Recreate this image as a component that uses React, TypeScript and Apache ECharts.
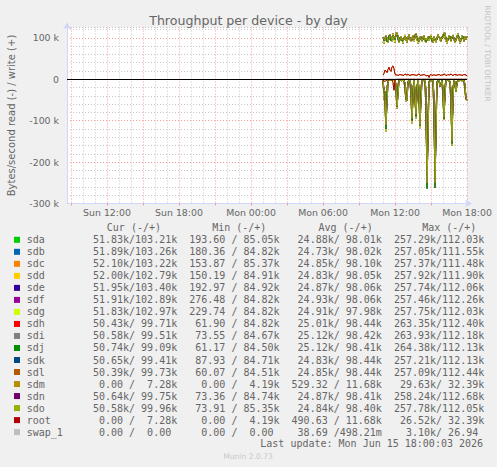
import React, { useEffect, useRef } from 'react';
import * as echarts from 'echarts';

// ---- legend / device data ----
const devices = ['sda', 'sdb', 'sdc', 'sdd', 'sde', 'sdf', 'sdg', 'sdh', 'sdi', 'sdj', 'sdk', 'sdl', 'sdm', 'sdn', 'sdo', 'root', 'swap_1'];
const deviceColors = ['#00CC00', '#0066B3', '#FF8000', '#FFCC00', '#330099', '#990099', '#CCFF00', '#FF0000', '#808080', '#008F00', '#00487D', '#B35A00', '#B38F00', '#6B006B', '#8FB300', '#B30000', '#BEBEBE'];

const curCol = [' 51.83k/103.21k', ' 51.89k/103.26k', ' 52.10k/103.22k', ' 52.00k/102.79k', ' 51.95k/103.40k', ' 51.91k/102.89k', ' 51.83k/102.97k', ' 50.43k/ 99.71k', ' 50.58k/ 99.51k', ' 50.74k/ 99.09k', ' 50.65k/ 99.41k', ' 50.39k/ 99.73k', '  0.00 /  7.28k', ' 50.64k/ 99.75k', ' 50.58k/ 99.96k', '  0.00 /  7.28k', '  0.00 /  0.00 '];
const minCol = ['193.60 / 85.05k', '180.36 / 84.82k', '153.87 / 85.37k', '150.19 / 84.91k', '192.97 / 84.92k', '276.48 / 84.82k', '229.74 / 84.82k', ' 61.90 / 84.82k', ' 73.55 / 84.67k', ' 61.17 / 84.50k', ' 87.93 / 84.71k', ' 60.07 / 84.51k', '  0.00 /  4.19k', ' 73.36 / 84.74k', ' 73.91 / 85.35k', '  0.00 /  4.19k', '  0.00 /  0.00 '];
const avgCol = [' 24.88k/ 98.01k', ' 24.73k/ 98.02k', ' 24.85k/ 98.10k', ' 24.83k/ 98.05k', ' 24.87k/ 98.06k', ' 24.93k/ 98.06k', ' 24.91k/ 97.98k', ' 25.01k/ 98.44k', ' 25.12k/ 98.42k', ' 25.12k/ 98.41k', ' 24.83k/ 98.44k', ' 24.85k/ 98.44k', '529.32 / 11.68k', ' 24.87k/ 98.41k', ' 24.84k/ 98.40k', '490.63 / 11.68k', ' 38.69 /498.21m'];
const maxCol = ['257.29k/112.03k', '257.05k/111.55k', '257.37k/111.48k', '257.92k/111.90k', '257.74k/112.06k', '257.46k/112.26k', '257.75k/112.03k', '263.35k/112.40k', '263.93k/112.18k', '264.38k/112.13k', '257.21k/112.13k', '257.09k/112.44k', ' 29.63k/ 32.39k', '258.24k/112.68k', '257.78k/112.05k', ' 26.52k/ 32.39k', '  3.10k/ 26.94 '];
const headers = ['Cur (-/+)', 'Min (-/+)', 'Avg (-/+)', 'Max (-/+)'];

// ---- y axis tick labels ----
const yTickLabels: Record<number, string> = { 100000: '100 k', 0: '0', [-100000]: '-100 k', [-200000]: '-200 k', [-300000]: '-300 k' };

// ---- time series, 5-minute steps, Mon 11:00 .. Mon 18:00 (kB/s) ----
const writeA = [
  90, 86, 101, 106, 95, 88, 99, 108, 100, 92,
  110, 97, 89, 112, 108, 99, 88, 95, 104, 97,
  87, 100, 107, 94, 89, 103, 108, 96, 90, 101,
  106, 92, 108, 111, 97, 87, 95, 104, 97, 90,
  102, 106, 93, 88, 97, 104, 93, 100, 107, 95,
  89, 103, 94, 88, 100, 108, 103, 95, 91, 102,
  108, 112, 99, 92, 87, 97, 105, 100, 90, 103,
  107, 96, 88, 94, 106, 110, 97, 87, 94, 105,
  100, 91, 103, 96, 103,
];
const writeB = [
  102, 93, 96, 104, 90, 95, 106, 101, 93, 99,
  106, 103, 95, 108, 112, 95, 91, 102, 99, 92,
  93, 96, 103, 101, 93, 97, 104, 102, 95, 93,
  101, 98, 106, 108, 103, 94, 91, 98, 103, 96,
  95, 103, 99, 91, 94, 101, 97, 104, 102, 91,
  96, 100, 99, 93, 95, 104, 100, 101, 95, 97,
  105, 110, 106, 101, 93, 94, 100, 104, 96, 97,
  104, 101, 92, 98, 102, 107, 103, 92, 97, 100,
  104, 95, 99, 100, 99.7,
];
const writeC = [
  97, 99, 94, 103, 101, 92, 97, 105, 103, 95,
  105, 102, 99, 104, 112, 105, 93, 97, 101, 95,
  98, 95, 104, 99, 92, 98, 105, 101, 93, 96,
  103, 95, 101, 108, 104, 99, 93, 101, 100, 93,
  99, 104, 95, 97, 95, 102, 101, 97, 104, 98,
  93, 102, 95, 92, 99, 105, 102, 99, 93, 101,
  100, 106, 112, 97, 92, 99, 103, 98, 94, 101,
  105, 99, 91, 95, 104, 102, 101, 91, 99, 102,
  98, 94, 102, 97, 99.9,
];
const readA = [
  5, 45, 60, 127, 20, 4, 2, 3, 2, 4,
  3, 2, 5, 35, 70, 12, 3, 2, 4, 3,
  2, 5, 25, 53, 30, 5, 3, 4, 45, 106,
  18, 8, 50, 94, 15, 5, 50, 118, 20, 3,
  2, 4, 8, 80, 257, 100, 5, 3, 2, 4,
  10, 90, 257, 90, 6, 3, 4, 18, 8, 3,
  50, 98, 15, 3, 2, 4, 3, 8, 70, 160,
  20, 4, 15, 30, 5, 2, 3, 4, 2, 3,
  2, 6, 30, 50, 51.8,
];
const readB = [
  4, 30, 45, 120, 30, 3, 3, 2, 3, 3,
  2, 3, 3, 25, 66, 18, 2, 3, 3, 2,
  3, 2, 18, 50, 38, 4, 2, 3, 30, 100,
  25, 5, 40, 90, 20, 4, 35, 112, 30, 2,
  3, 3, 5, 50, 264, 110, 4, 2, 3, 3,
  4, 60, 262, 105, 5, 2, 3, 15, 12, 2,
  35, 95, 22, 2, 3, 3, 4, 5, 45, 155,
  25, 4, 10, 28, 6, 3, 2, 3, 3, 2,
  3, 3, 20, 48, 50.6,
];
const readC = [
  2, 25, 30, 110, 60, 8, 3, 2, 3, 2,
  4, 2, 2, 12, 65, 40, 4, 3, 2, 4,
  2, 4, 8, 45, 52, 10, 2, 3, 15, 95,
  50, 3, 25, 85, 40, 2, 20, 110, 55, 4,
  3, 2, 3, 25, 250, 150, 15, 3, 2, 3,
  2, 40, 250, 140, 12, 4, 3, 17, 14, 4,
  20, 92, 40, 4, 3, 2, 3, 4, 25, 150,
  50, 2, 6, 30, 12, 3, 4, 2, 3, 4,
  3, 2, 12, 45, 50.6,
];
const rootWrite = [
  10, 14, 22, 20, 16, 24, 29, 22, 19, 30,
  32.39, 26, 12, 10, 11, 9, 10, 12, 10, 11,
  9, 10, 13, 11, 10, 12, 10, 9, 11, 10,
  12, 10, 11, 9, 10, 11, 13, 10, 9, 11,
  10, 12, 10, 9, 8, 10, 4.19, 10, 12, 9,
  10, 11, 10, 9, 11, 10, 12, 10, 9, 11,
  10, 13, 11, 10, 9, 12, 10, 11, 13, 10,
  9, 11, 12, 10, 11, 9, 12, 10, 11, 9,
  10, 12, 10, 11, 7.28,
];
const rootRead = [
  2, 4, 5, 3, 2, 1, 0.5, 0.3, 0.5, 2,
  8, 26.5, 2, 0.5, 0.3, 0, 0, 0.2, 0, 0,
  0, 0, 0.2, 0, 0, 0, 0, 0, 0, 0,
  0, 0, 0, 0.4, 0, 0, 0, 0, 0, 0,
  0, 0, 0, 0, 0, 0, 0, 0, 0, 0,
  0, 0, 0, 0, 0.3, 0, 0, 0, 0, 0,
  0, 0, 0, 0, 0, 0, 0, 0, 0, 0,
  0, 0, 0, 0, 0, 0, 0, 0, 0, 0,
  0, 0, 0, 0, 0,
];
const swapWrite = [
  0, 0, 0, 0, 0, 0, 0, 0, 0, 0,
  0, 0, 0, 0, 0, 0, 0, 0, 0, 0,
  0, 0, 0, 0, 0, 0, 0, 0, 0, 0,
  0, 0, 0, 0, 0, 0, 0, 0, 0, 0,
  0, 0, 0, 0, 0, 0, 0, 0, 0, 0,
  0, 0, 0, 0, 0, 0, 0, 0, 0, 0,
  0, 0, 0, 0, 0, 0, 0, 0, 0, 0,
  0, 0, 0, 0, 0, 0, 0, 0, 0, 0,
  0, 0, 0, 0, 0,
];
const swapRead = [
  0, 0, 3.1, 0, 0, 0, 0, 0, 0, 0,
  0, 0, 0, 0, 0, 0, 0, 0, 0, 0,
  0, 0, 0, 0, 0, 0, 0, 0, 0, 0,
  0, 0, 0, 0, 0, 0, 0, 0, 0, 0,
  0, 0, 0, 0, 0, 0, 0, 0, 0, 0,
  0, 0, 0, 0, 0, 0, 0, 0, 0, 0,
  0, 0, 0, 0, 0, 0, 0, 0, 0, 0,
  0, 0, 0, 0, 0, 0, 0, 0, 0, 0,
  0, 0, 0, 0, 0,
];

// which trace each device uses (same order as devices)
const deviceWrite = [writeA, writeA, writeA, writeA, writeA, writeA, writeA, writeB, writeB, writeB, writeC, writeC, rootWrite, writeC, writeC, rootWrite, swapWrite];
const deviceRead = [readA, readA, readA, readA, readA, readA, readA, readB, readB, readB, readC, readC, rootRead, readC, readC, rootRead, swapRead];

// ---- time axis: Sun 14 Jun 2026 08:40 .. Mon 15 Jun 18:00, 5-minute slots ----
const START = new Date(2026, 5, 14, 8, 40).getTime();
const SLOTS = 401;
const DATA_START = 316; // Mon 11:00
const dayNames = ['Sun', 'Mon', 'Tue', 'Wed', 'Thu', 'Fri', 'Sat'];
const categories: string[] = [];
for (let i = 0; i < SLOTS; i++) {
  const d = new Date(START + i * 300000);
  const hh = String(d.getHours()).padStart(2, '0');
  const mm = String(d.getMinutes()).padStart(2, '0');
  categories.push(`${dayNames[d.getDay()]} ${hh}:${mm}`);
}
const pad = (arr: number[], sign: number) => {
  const out: (number | null)[] = new Array(DATA_START).fill(null);
  arr.forEach((v) => out.push(sign * v * 1000));
  return out;
};

const FONT = '"DejaVu Sans", sans-serif';
const MONO = '"DejaVu Sans Mono", monospace';
const TXT = '#666666';
const MAJOR = 'rgba(245,120,120,0.75)';
const MINOR = 'rgba(160,160,160,0.6)';
const AXIS = '#CFD6F8';
const nb = (s: string) => s.replace(/ /g, '\u00A0');

export default function App() {
  const ref = useRef<HTMLDivElement>(null);
  useEffect(() => {
    const chart = echarts.init(ref.current!, null, { renderer: 'svg' });
    const series: any[] = [];
    devices.forEach((name, i) => {
      series.push({
        name: name + '_read', type: 'line', data: pad(deviceRead[i], -1), symbol: 'none', showSymbol: false,
        lineStyle: { width: 1, color: deviceColors[i] }, itemStyle: { color: deviceColors[i] }, silent: true,
      });
      series.push({
        name, type: 'line', data: pad(deviceWrite[i], 1), symbol: 'none', showSymbol: false,
        lineStyle: { width: 1, color: deviceColors[i] }, itemStyle: { color: deviceColors[i] }, silent: true,
      });
    });
    series[series.length - 1].markLine = {
      silent: true, symbol: 'none', label: { show: false },
      lineStyle: { color: '#000000', width: 1, type: 'solid' },
      data: [{ yAxis: 0 }],
    };

    const rowY0 = 239.8;
    const rowH = 12.02;
    const cw = 6.02;
    const x0 = 26.7;
    const graphics: any[] = [
      { type: 'text', x: 248.5, y: 20, silent: true, style: { text: 'Throughput per device - by day', fill: TXT, font: `12.6px ${FONT}`, textAlign: 'center', textVerticalAlign: 'middle', align: 'center', verticalAlign: 'middle' } },
      { type: 'text', x: 11, y: 115.5, rotation: Math.PI / 2, silent: true, style: { text: 'Bytes/second read (-) / write (+)', fill: TXT, font: `10px ${FONT}`, textAlign: 'center', textVerticalAlign: 'middle', align: 'center', verticalAlign: 'middle' } },
      { type: 'text', x: 487.5, y: 53.5, rotation: -Math.PI / 2, silent: true, style: { text: 'RRDTOOL / TOBI OETIKER', fill: '#C4C4C4', font: `7.5px ${FONT}`, textAlign: 'center', textVerticalAlign: 'middle', align: 'center', verticalAlign: 'middle' } },
      { type: 'text', x: 248, y: 456.7, silent: true, style: { text: 'Munin 2.0.73', fill: '#C8C8C8', font: `7.6px ${FONT}`, textAlign: 'center', textVerticalAlign: 'middle', align: 'center', verticalAlign: 'middle' } },
      { type: 'text', x: 260.3, y: 443.6, silent: true, style: { text: nb('Last update: Mon Jun 15 18:00:03 2026'), fill: TXT, font: `10px ${MONO}`, textAlign: 'left', textVerticalAlign: 'middle', align: 'left', verticalAlign: 'middle' } },
    ];
    const headerX = [106.8, 212.2, 318.5, 422.2];
    headers.forEach((h, j) => {
      graphics.push({ type: 'text', x: headerX[j], y: rowY0 - rowH, silent: true, style: { text: nb(h), fill: TXT, font: `10px ${MONO}`, textAlign: 'left', textVerticalAlign: 'middle', align: 'left', verticalAlign: 'middle' } });
    });
    devices.forEach((name, i) => {
      const y = rowY0 + i * rowH;
      graphics.push({ type: 'rect', silent: true, shape: { x: 14, y: y - 3, width: 6, height: 6 }, style: { fill: deviceColors[i] } });
      const cols = [name, curCol[i], minCol[i], avgCol[i], maxCol[i]];
      const colStart = [0, 10, 27, 44, 61];
      cols.forEach((c, j) => {
        graphics.push({ type: 'text', x: x0 + colStart[j] * cw, y, silent: true, style: { text: nb(c), fill: TXT, font: `10px ${MONO}`, textAlign: 'left', textVerticalAlign: 'middle', align: 'left', verticalAlign: 'middle' } });
      });
    });

    chart.setOption({
      animation: false,
      backgroundColor: '#F0F0F0',
      grid: { left: 67, top: 27.5, width: 400, height: 176, show: true, backgroundColor: '#FFFFFF', borderWidth: 0 },
      xAxis: {
        type: 'category', data: categories, boundaryGap: false,
        axisLine: { show: true, onZero: false, lineStyle: { color: AXIS, width: 1 }, symbol: ['none', 'arrow'], symbolSize: [6, 7], symbolOffset: [0, 5] },
        axisTick: { show: true, length: 2, interval: (i: number) => i >= 4 && (i - 4) % 36 === 0, lineStyle: { color: MAJOR } },
        axisLabel: { show: true, interval: (i: number) => i >= 40 && (i - 40) % 72 === 0, color: TXT, fontSize: 9.4, fontFamily: FONT, margin: 4 },
        splitLine: { show: true, interval: (i: number) => i >= 4 && (i - 4) % 12 === 0, lineStyle: { color: [MAJOR, MINOR, MINOR], type: [1, 2], width: 1 } },
      },
      yAxis: {
        type: 'value', min: -300000, max: 125000, interval: 20000,
        axisLine: { show: true, lineStyle: { color: AXIS, width: 1 }, symbol: ['none', 'arrow'], symbolSize: [6, 7], symbolOffset: [0, 5] },
        axisTick: { show: false },
        axisLabel: { color: TXT, fontSize: 9.4, fontFamily: FONT, margin: 8, formatter: (v: number) => yTickLabels[v] ?? '' },
        splitLine: { show: true, lineStyle: { color: [MAJOR, MINOR, MINOR, MINOR, MINOR], type: [1, 2], width: 1 } },
      },
      graphic: graphics,
      series,
    });
    return () => chart.dispose();
  }, []);
  return <div ref={ref} style={{ position: 'fixed', left: 0, top: 0, width: 497, height: 467 }} />;
}
